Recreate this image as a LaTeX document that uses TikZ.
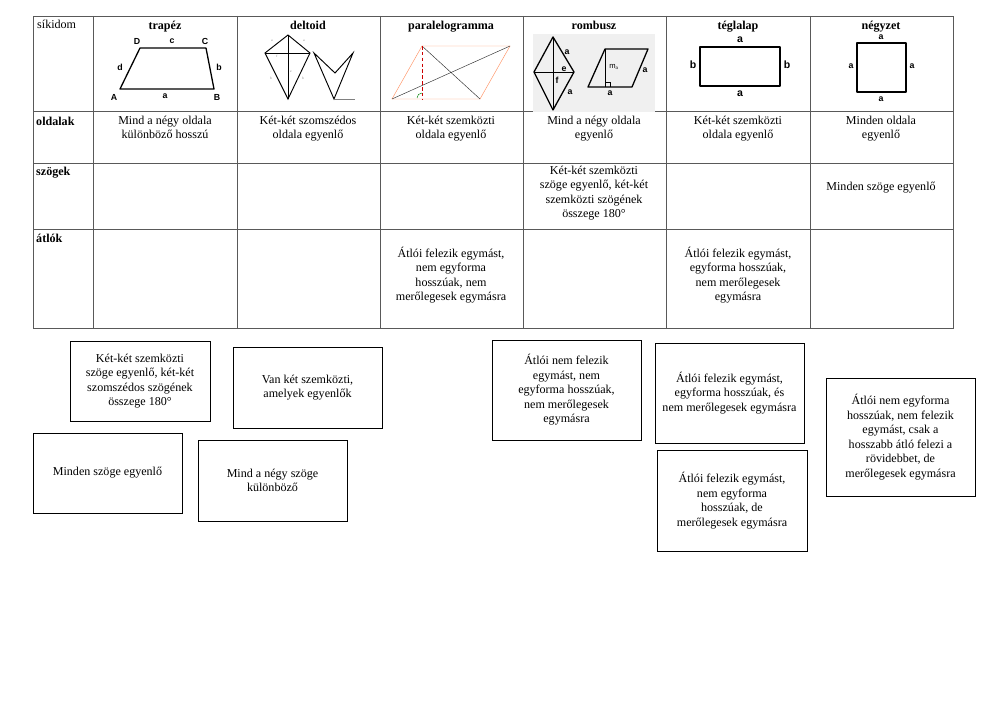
\documentclass[tikz,border=0pt]{standalone}
\usepackage{fontspec}
\setmainfont{Liberation Serif}
\newfontfamily\lblfont{Liberation Sans}
\usetikzlibrary{positioning}

\begin{document}
\begin{tikzpicture}[x=0.03cm, y=-0.03cm,
      cell/.style={anchor=north, align=center, font=\fontsize{10.3pt}{12.2pt}\selectfont, inner sep=0pt},
      hdr/.style={anchor=base, font=\bfseries\fontsize{10.3pt}{11pt}\selectfont},
      rowlbl/.style={anchor=north west, font=\bfseries\fontsize{10.3pt}{11pt}\selectfont, inner sep=0pt},
      card/.style={draw, thin, align=center, font=\fontsize{10.3pt}{12.4pt}\selectfont, inner sep=0pt},
      fig/.style={line width=1.1pt, line join=round},
      lbl/.style={font=\lblfont\bfseries\fontsize{7.5pt}{8pt}\selectfont, inner sep=0pt},
      tiny/.style={font=\fontsize{3pt}{3pt}\selectfont, inner sep=0pt, gray} ]

    \useasboundingbox (0,0) rectangle (1000,707);

    % Table grid
    \draw[thin, gray!70!black] (33,16) rectangle (953,328);
    \foreach \x in {93,237,380,523,666,810} \draw[thin, gray!70!black] (\x,16) -- (\x,328);
    \foreach \y in {111,163,229} \draw[thin, gray!70!black] (33,\y) -- (953,\y);

    % Header row
    \node[rowlbl, font=\fontsize{10.3pt}{11pt}\selectfont] (sik) at (37,20) {síkidom};
    \node[hdr] (htrap) at (165,30) {trapéz};
    \node[hdr] (hdelt) at (308,30) {deltoid};
    \node[hdr] (hpar) at (451,30) {paralelogramma};
    \node[hdr] (hromb) at (594,30) {rombusz};
    \node[hdr] (htegl) at (738,30) {téglalap};
    \node[hdr] (hnegy) at (881,30) {négyzet};

    % trapez
    \draw[fig] (120,89) -- (214,89) -- (206,48) -- (140,48) -- cycle;
    \node[lbl] (tD) at (137,41) {D}; \node[lbl] (tc) at (172,41) {c};
    \node[lbl] (tC) at (205,41) {C}; \node[lbl] (td) at (120,67) {d};
    \node[lbl] (tb) at (219,67) {b}; \node[lbl] (tA) at (114,97) {A};
    \node[lbl] (ta) at (165,96) {a}; \node[lbl] (tB) at (217,97) {B};

    % deltoid
    \draw[thick] (288,35) -- (310,53) -- (288,99) -- (265,53) -- cycle;
    \draw[thin] (288,35) -- (288,99) (265,53) -- (310,53);
    \draw[thick] (314,53) -- (335,73) -- (353,53) -- (334,99) -- cycle;
    \draw[thin, gray] (334,99) -- (355,99);
    \node[tiny] (da1) at (272,41) {a}; \node[tiny] (da2) at (304,41) {a};
    \node[tiny] (df) at (277,56) {f}; \node[tiny] (de) at (291,72) {e};
    \node[tiny] (db1) at (271,78) {b}; \node[tiny] (db2) at (303,78) {b};

    % paralelogramma
    \draw[red!40!orange!60, thin] (392,99) -- (480,99) -- (510,46) -- (422,46) -- cycle;
    \draw[black!80, thin] (392,99) -- (510,46) (422,46) -- (480,99);
    \draw[red!80!black, densely dashed, thick] (422,46) -- (422,99);
    \draw[green!50!black, thin] (422,93) arc (-90:-180:5);

    % rombusz
    \fill[gray!12] (533,34) rectangle (655,112);
    \draw[fig] (553,37) -- (574,72) -- (553,110) -- (534,72) -- cycle;
    \draw[thin] (553,37) -- (553,110) (534,72) -- (574,72);
    \draw[fig] (588,87) -- (605,49) -- (648,49) -- (632,87) -- cycle;
    \draw[thin] (605,49) -- (605,87);
    \draw[thin] (605,82) -- (610,82) -- (610,87);
    \node[lbl] (ra1) at (567,52) {a}; \node[lbl] (re) at (564,69) {e};
    \node[lbl] (rf) at (557,80) {f}; \node[lbl] (ra2) at (570,92) {a};
    \node[lbl, font=\lblfont\fontsize{6.5pt}{7pt}\selectfont] (rm) at (614,67) {m$_\mathrm{a}$};
    \node[lbl] (ra3) at (645,70) {a}; \node[lbl] (ra4) at (610,93) {a};

    % teglalap
    \draw[fig, line width=1pt] (700,47) rectangle (780,86);
    \node[lbl, font=\lblfont\bfseries\fontsize{9pt}{9pt}\selectfont] (la1) at (740,40) {a};
    \node[lbl, font=\lblfont\bfseries\fontsize{9pt}{9pt}\selectfont] (la2) at (740,94) {a};
    \node[lbl, font=\lblfont\bfseries\fontsize{9pt}{9pt}\selectfont] (lb1) at (693,65) {b};
    \node[lbl, font=\lblfont\bfseries\fontsize{9pt}{9pt}\selectfont] (lb2) at (787,65) {b};

    % negyzet
    \draw[fig, line width=0.9pt] (857,43) rectangle (906,92);
    \node[lbl] (na1) at (881,37) {a}; \node[lbl] (na2) at (881,99) {a};
    \node[lbl] (na3) at (851,66) {a}; \node[lbl] (na4) at (912,66) {a};

    % Row labels
    \node[rowlbl] (oldal) at (36,117) {oldalak};
    \node[rowlbl] (szog) at (36,167) {szögek};
    \node[rowlbl] (atlo) at (36,234) {átlók};

    % oldalak row
    \node[cell] (o1) at (165,116) {Mind a négy oldala\\különböző hosszú};
    \node[cell] (o2) at (308,116) {Két-két szomszédos\\oldala egyenlő};
    \node[cell] (o3) at (451,116) {Két-két szemközti\\oldala egyenlő};
    \node[cell] (o4) at (594,116) {Mind a négy oldala\\egyenlő};
    \node[cell] (o5) at (738,116) {Két-két szemközti\\oldala egyenlő};
    \node[cell] (o6) at (881,116) {Minden oldala\\egyenlő};

    % szogek row
    \node[cell] (s4) at (594,166) {Két-két szemközti\\szöge egyenlő, két-két\\szemközti szögének\\összege 180°};
    \node[cell] (s6) at (881,182) {Minden szöge egyenlő};

    % atlok row
    \node[cell] (a3) at (451,247) {Átlói felezik egymást,\\nem egyforma\\hosszúak, nem\\merőlegesek egymásra};
    \node[cell] (a5) at (738,247) {Átlói felezik egymást,\\egyforma hosszúak,\\nem merőlegesek\\egymásra};

    % Cards
    \node[card, minimum width=4.2cm, minimum height=2.4cm] (c1) at (140,381) {Két-két szemközti\\szöge egyenlő, két-két\\szomszédos szögének\\összege 180°};
    \node[card, minimum width=4.47cm, minimum height=2.43cm] (c2) at (307.5,387.5) {Van két szemközti,\\amelyek egyenlők};
    \node[card, minimum width=4.47cm, minimum height=2.4cm] (c3) at (107.5,473) {Minden szöge egyenlő};
    \node[card, minimum width=4.47cm, minimum height=2.43cm] (c4) at (272.5,480.5) {Mind a négy szöge\\különböző};
    \node[card, minimum width=4.47cm, minimum height=3cm] (c5) at (566.5,390) {Átlói nem felezik\\egymást, nem\\egyforma hosszúak,\\nem merőlegesek\\egymásra};
    \node[card, minimum width=4.47cm, minimum height=3cm] (c6) at (729.5,393) {Átlói felezik egymást,\\egyforma hosszúak, és\\nem merőlegesek egymásra};
    \node[card, minimum width=4.5cm, minimum height=3.03cm] (c7) at (732,500.5) {Átlói felezik egymást,\\nem egyforma\\hosszúak, de\\merőlegesek egymásra};
    \node[card, minimum width=4.47cm, minimum height=3.54cm] (c8) at (900.5,437) {Átlói nem egyforma\\hosszúak, nem felezik\\egymást, csak a\\hosszabb átló felezi a\\rövidebbet, de\\merőlegesek egymásra};

\end{tikzpicture}
\end{document}
